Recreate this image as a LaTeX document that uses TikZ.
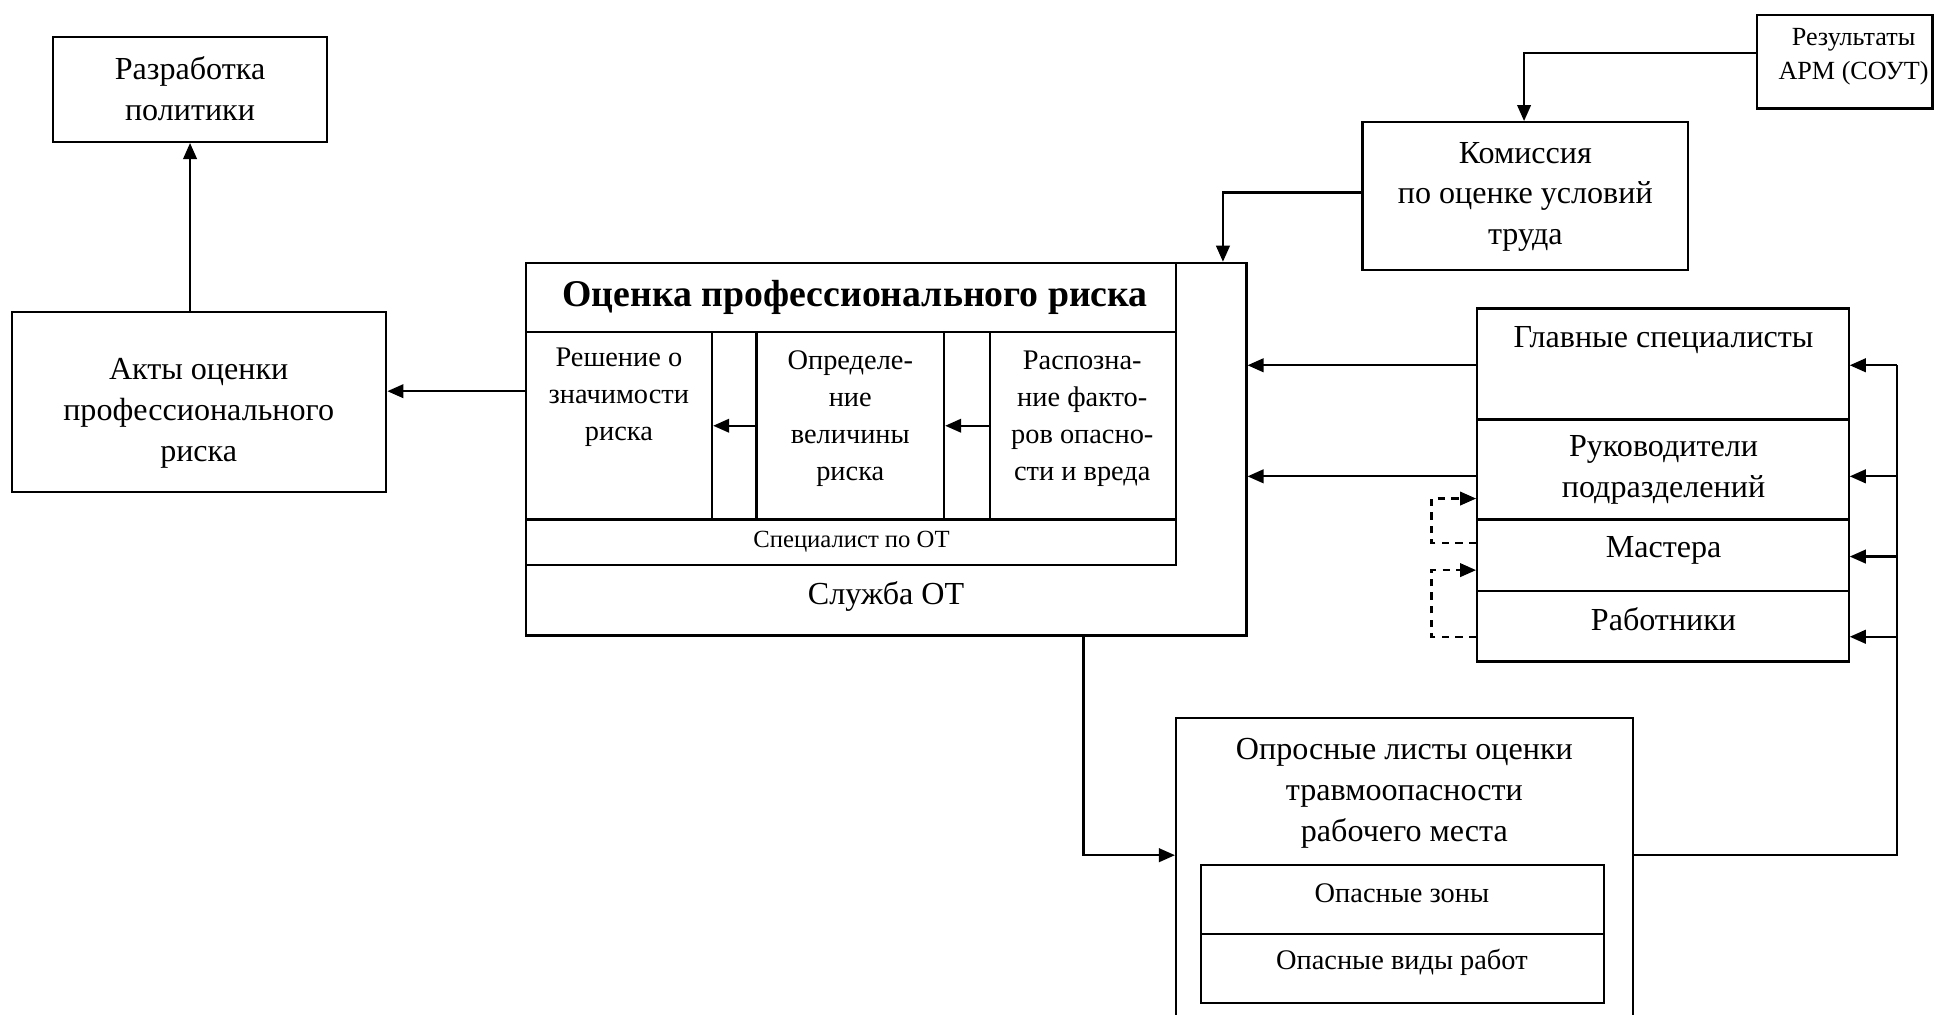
\documentclass[tikz,border=0pt]{standalone}
\usepackage{fontspec}
\setmainfont{Liberation Serif}
\usetikzlibrary{fit,arrows.meta}
\begin{document}
\begin{tikzpicture}[x=0.5pt,y=-0.5pt,
  box/.style={draw,line width=0.9pt,inner sep=0pt},
  txt/.style={align=center,inner sep=0pt,font=\fontsize{13}{16.5}\selectfont},
  cell/.style={align=center,inner sep=0pt,font=\fontsize{11.5}{15}\selectfont},
  small/.style={align=center,inner sep=0pt,font=\fontsize{10}{13.5}\selectfont},
  rsmall/.style={align=center,inner sep=0pt,font=\fontsize{10.6}{13.5}\selectfont},
  ttl/.style={align=center,inner sep=0pt,font=\fontsize{15.3}{18}\selectfont\bfseries},
  ln/.style={draw,line width=0.9pt},
  arr/.style={draw,line width=0.9pt,-{Triangle[length=6.5pt,width=5.5pt]}},
  dsh/.style={arr,dash pattern=on 3pt off 2.5pt}]
\useasboundingbox (0,0) rectangle (1568,822);
% boxes
\node[box,fit={(43,30)(265,115)}] (razr) {};
\node[box,fit={(10,253)(313,399)}] (akty) {};
\node[box,fit={(426,213)(1010,515)}] (sluzhba) {};
\node[box,fit={(426,213)(953,458)}] (spec) {};
\node[box,fit={(426,213)(953,269)}] (title) {};
\node[box,fit={(426,269)(577,421)}] (resh) {};
\node[box,fit={(577,269)(613,421)}] (gap1) {};
\node[box,fit={(613,269)(765,421)}] (opr) {};
\node[box,fit={(765,269)(802,421)}] (gap2) {};
\node[box,fit={(802,269)(953,421)}] (rasp) {};
\node[box,fit={(426,421)(953,458)}] (specrow) {};
\node[box,fit={(1104,99)(1368,219)}] (komis) {};
\node[box,fit={(1424,12)(1566,88)}] (rez) {};
\node[box,fit={(1197,250)(1498,340)}] (glav) {};
\node[box,fit={(1197,340)(1498,421)}] (ruk) {};
\node[box,fit={(1197,421)(1498,479)}] (mast) {};
\node[box,fit={(1197,479)(1498,536)}] (rab) {};
\node[box,fit={(953,582)(1323,828)}] (opros) {};
\node[box,fit={(973,701)(1300,757)}] (zony) {};
\node[box,fit={(973,757)(1300,813)}] (vidy) {};
% texts
\node[txt] (t-razr) at (154,72) {Разработка\\политики};
\node[txt] (t-akty) at (161,335) {Акты оценки\\профессионального\\риска};
\node[ttl] (t-title) at (693,241) {Оценка профессионального риска};
\node[cell] (t-resh) at (501.5,322) {Решение о\\значимости\\риска};
\node[cell] (t-opr) at (689,339.5) {Определе-\\ние\\величины\\риска};
\node[cell] (t-rasp) at (877,339.5) {Распозна-\\ние факто-\\ров опасно-\\сти и вреда};
\node[small] (t-spec) at (690,439) {Специалист по ОТ};
\node[txt] (t-sl) at (718,483) {Служба ОТ};
\node[txt] (t-komis) at (1236,159.5) {Комиссия\\по оценке условий\\труда};
\node[rsmall] (t-rez) at (1502,46) {Результаты\\АРМ (СОУТ)};
\node[txt] (t-glav) at (1348,276) {Главные специалисты};
\node[txt] (t-ruk) at (1348,381) {Руководители\\подразделений};
\node[txt] (t-mast) at (1348,446) {Мастера};
\node[txt] (t-rab) at (1348,502) {Работники};
\node[txt] (t-opros) at (1138,643) {Опросные листы оценки\\травмоопасности\\рабочего места};
\node[cell] (t-zony) at (1136,724) {Опасные зоны};
\node[cell] (t-vidy) at (1136,780) {Опасные виды работ};
% coordinates
\coordinate (c1) at (426,317);
\coordinate (c2) at (1235,43);
\coordinate (c3) at (991,156);
\coordinate (c5) at (1197,386);
\coordinate (d1) at (1160,440);
\coordinate (d2) at (1160,404);
\coordinate (d3) at (1160,516);
\coordinate (d4) at (1160,462);
\coordinate (r0) at (1537,693);
\coordinate (r1) at (1537,296);
\coordinate (r2) at (1537,386);
\coordinate (r3) at (1537,451);
\coordinate (r4) at (1537,516);
\coordinate (b0) at (878,693);
% connectors
\draw[arr] (akty.north -| razr.south) -- (razr.south);
\draw[arr] (c1) -- (c1 -| akty.east);
\draw[arr] (opr.west) -- (resh.east);
\draw[arr] (rasp.west) -- (opr.east);
\draw[arr] (rez.west |- c2) -- (c2) -- (c2 |- komis.north);
\draw[arr] (komis.west |- c3) -- (c3) -- (c3 |- sluzhba.north);
\draw[arr] (glav.west |- r1) -- (r1 -| sluzhba.east);
\draw[arr] (c5) -- (c5 -| sluzhba.east);
\draw[dsh] (mast.west |- d1) -- (d1) -- (d2) -- (d2 -| ruk.west);
\draw[dsh] (rab.west |- d3) -- (d3) -- (d4) -- (d4 -| mast.west);
\draw[ln] (opros.east |- r0) -- (r0) -- (r1);
\draw[arr] (r1) -- (r1 -| glav.east);
\draw[arr] (r2) -- (r2 -| ruk.east);
\draw[arr] (r3) -- (r3 -| mast.east);
\draw[arr] (r4) -- (r4 -| rab.east);
\draw[arr] (sluzhba.south -| b0) -- (b0) -- (b0 -| opros.west);
\end{tikzpicture}
\end{document}
